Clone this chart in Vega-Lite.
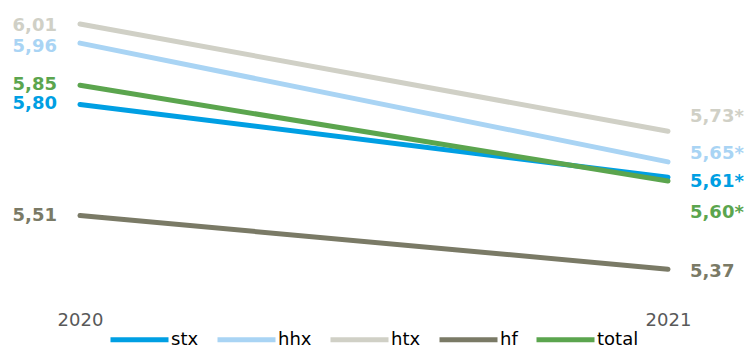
{
  "$schema": "https://vega.github.io/schema/vega-lite/v6.json",
  "autosize": {"type": "none"},
  "padding": {"left": 80, "top": 0, "right": 80, "bottom": 51},
  "width": 588,
  "height": 296,
  "background": "white",
  "config": {"view": {"stroke": null}, "font": "DejaVu Sans"},
  "data": {"values": [
    {"series": "stx", "year": "2020", "value": 5.80, "label": "5,80", "labelPos": 5.7998},
    {"series": "stx", "year": "2021", "value": 5.61, "label": "5,61*", "labelPos": 5.5963},
    {"series": "hhx", "year": "2020", "value": 5.96, "label": "5,96", "labelPos": 5.951},
    {"series": "hhx", "year": "2021", "value": 5.65, "label": "5,65*", "labelPos": 5.6706},
    {"series": "htx", "year": "2020", "value": 6.01, "label": "6,01", "labelPos": 6.0047},
    {"series": "htx", "year": "2021", "value": 5.73, "label": "5,73*", "labelPos": 5.766},
    {"series": "hf", "year": "2020", "value": 5.51, "label": "5,51", "labelPos": 5.5075},
    {"series": "hf", "year": "2021", "value": 5.37, "label": "5,37", "labelPos": 5.3627},
    {"series": "total", "year": "2020", "value": 5.85, "label": "5,85", "labelPos": 5.8494},
    {"series": "total", "year": "2021", "value": 5.60, "label": "5,60*", "labelPos": 5.5167}
  ]},
  "encoding": {
    "x": {"field": "year", "type": "ordinal", "scale": {"type": "point", "padding": 0},
      "axis": {"title": null, "domain": false, "ticks": false, "labelAngle": 0, "labelFontSize": 18, "labelColor": "#595959", "labelPadding": 15, "labelFont": "DejaVu Sans"}},
    "color": {"field": "series", "type": "nominal",
      "scale": {"domain": ["stx", "hhx", "htx", "hf", "total"], "range": ["#009FE3", "#A9D4F4", "#D0D0C6", "#7A7A66", "#5BA54E"]},
      "legend": {"title": null, "orient": "none", "direction": "horizontal", "legendX": 28, "legendY": 308, "padding": 0,
        "symbolType": "stroke", "symbolStrokeWidth": 5, "symbolSize": 3364, "labelFontSize": 18, "labelColor": "#000000", "labelFont": "DejaVu Sans",
        "labelOffset": 0, "columnPadding": 8}}
  },
  "layer": [
    {"mark": {"type": "line", "strokeWidth": 5, "strokeCap": "round"},
      "encoding": {"y": {"field": "value", "type": "quantitative", "scale": {"domain": [5.30, 6.0725], "zero": false, "nice": false}, "axis": null}}},
    {"transform": [{"filter": "datum.year == '2020'"}],
      "mark": {"type": "text", "align": "right", "baseline": "middle", "dx": -23, "fontSize": 18, "fontWeight": "bold", "font": "DejaVu Sans"},
      "encoding": {"y": {"field": "labelPos", "type": "quantitative"}, "text": {"field": "label"}}},
    {"transform": [{"filter": "datum.year == '2021'"}],
      "mark": {"type": "text", "align": "left", "baseline": "middle", "dx": 22, "fontSize": 18, "fontWeight": "bold", "font": "DejaVu Sans"},
      "encoding": {"y": {"field": "labelPos", "type": "quantitative"}, "text": {"field": "label"}}}
  ]
}
